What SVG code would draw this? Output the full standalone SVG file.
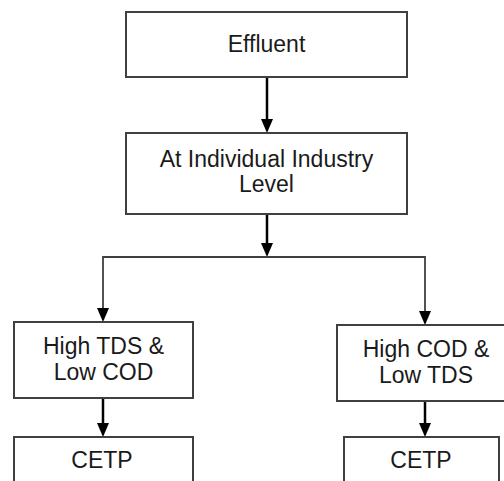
<svg xmlns="http://www.w3.org/2000/svg" width="504" height="481" viewBox="0 0 504 481">
<style>
.box{fill:#fff;stroke:#404040;stroke-width:2}
.t{font-family:"Liberation Sans",Arial,sans-serif;font-size:23px;fill:#1a1a1a;text-anchor:middle}
.arr{stroke:#000;stroke-width:2.5;fill:none}
.ln{stroke:#404040;stroke-width:1.8;fill:none}
.hd{fill:#000}
</style>
<rect width="504" height="481" fill="#fff"/>
<g id="connectors">
<line class="arr" x1="267" y1="77" x2="267" y2="120"/>
<path class="hd" d="M261,119 L273,119 L267,133 Z"/>
<line class="arr" x1="267" y1="214" x2="267" y2="244"/>
<path class="hd" d="M261,243 L273,243 L267,257 Z"/>
<polyline class="ln" points="103,310 103,257 425,257 425,313"/>
<path class="hd" d="M97,308 L109,308 L103,322 Z"/>
<path class="hd" d="M419,311 L431,311 L425,325 Z"/>
<line class="arr" x1="103" y1="398" x2="103" y2="425"/>
<path class="hd" d="M97,423 L109,423 L103,437 Z"/>
<line class="arr" x1="425" y1="401" x2="425" y2="425"/>
<path class="hd" d="M419,423 L431,423 L425,437 Z"/>
</g>
<g id="effluent">
<rect class="box" x="126" y="12" width="281" height="65"/>
<text class="t" x="266.5" y="52">Effluent</text>
</g>
<g id="industry">
<rect class="box" x="126" y="133" width="281" height="81"/>
<text class="t" x="266.5" y="167">At Individual Industry</text>
<text class="t" x="266.5" y="192">Level</text>
</g>
<g id="hightds">
<rect class="box" x="14" y="322" width="179" height="76"/>
<text class="t" x="103.5" y="354">High TDS &amp;</text>
<text class="t" x="103.5" y="380">Low COD</text>
</g>
<g id="highcod">
<rect class="box" x="337" y="325" width="180" height="76"/>
<text class="t" x="426" y="357">High COD &amp;</text>
<text class="t" x="426" y="383">Low TDS</text>
</g>
<g id="cetp1">
<rect class="box" x="14" y="437" width="179" height="60"/>
<text class="t" x="102" y="468">CETP</text>
</g>
<g id="cetp2">
<rect class="box" x="344" y="437" width="155" height="60"/>
<text class="t" x="421" y="468">CETP</text>
</g>
</svg>
